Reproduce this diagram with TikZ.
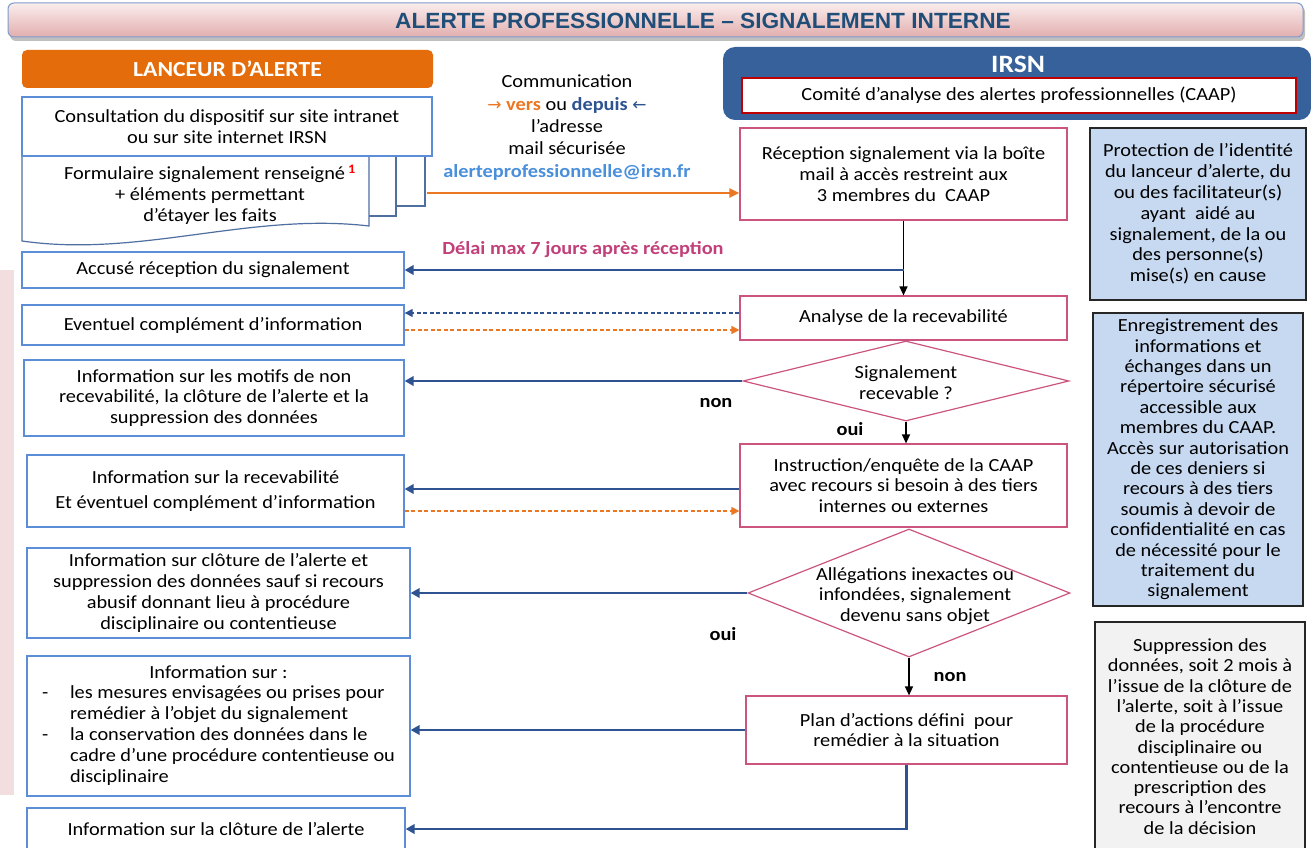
\documentclass[tikz,border=0pt]{standalone}
\usepackage{fontspec}
\setmainfont{Carlito}[FakeStretch=1.1]
\newfontfamily\titlefont{Liberation Sans}[FakeStretch=1.03]
\newfontfamily\symfont{DejaVu Sans}
\usetikzlibrary{shapes.geometric,arrows.meta,calc}
\definecolor{ttl}{HTML}{1F4E79}
\definecolor{bannerTop}{HTML}{FBEDED}
\definecolor{bannerBot}{HTML}{E2AEAE}
\definecolor{bannerLine}{HTML}{7D9CCB}
\definecolor{orng}{HTML}{E46C0A}
\definecolor{orngLine}{HTML}{EB7722}
\definecolor{irsn}{HTML}{36619A}
\definecolor{caapRed}{HTML}{C00000}
\definecolor{rose}{HTML}{CC5580}
\definecolor{boxblue}{HTML}{5B8ED6}
\definecolor{darkblue}{HTML}{2F5290}
\definecolor{lightblue}{HTML}{C6D9F1}
\definecolor{lightgray}{HTML}{F2F2F2}
\definecolor{delai}{HTML}{C2407A}
\definecolor{mail}{HTML}{4A8FDB}
\definecolor{strip}{HTML}{F2DEDE}
\definecolor{docline}{HTML}{4F6FA0}
\tikzset{
  base/.style={inner sep=0pt, align=center, font=\fontsize{18.5}{20.8}\selectfont},
  bbox/.style={base, rectangle, draw=boxblue, line width=1.3pt, fill=white},
  rbox/.style={base, rectangle, draw=rose, line width=1.2pt, fill=white},
  rdiam/.style={diamond, draw=rose, line width=1.2pt, fill=white, inner sep=0pt},
  sidebox/.style={base, rectangle, draw=black!85, line width=1.2pt},
  lbl/.style={base, font=\bfseries\fontsize{18.5}{20.8}\selectfont},
  blarrow/.style={draw=darkblue, line width=2.8pt, -{Triangle[length=9pt,width=9.5pt]}},
  bkarrow/.style={draw=black, line width=1.3pt, -{Triangle[length=9pt,width=8pt]}},
  bldash/.style={draw=darkblue, line width=1.3pt, dash pattern=on 4pt off 2.5pt, -{Triangle[length=8pt,width=8pt]}},
  ordash/.style={draw=orngLine, line width=1.3pt, dash pattern=on 4pt off 2.5pt, -{Triangle[length=8pt,width=8pt]}},
  docpage/.style={draw=docline, line width=1.2pt, fill=white}
}
\begin{document}
\begin{tikzpicture}[x=1pt,y=-1pt]
\useasboundingbox (0,0) rectangle (1311,848);
\fill[white] (0,0) rectangle (1311,848);
% left strip
\fill[strip] (0,270) rectangle (14,795);
% banner
\fill[black!25, rounded corners=6pt] (10,6) rectangle (1305,41);
\shade[top color=bannerTop, bottom color=bannerBot, draw=bannerLine, line width=1pt, rounded corners=6pt] (8,3) rectangle (1303,37);
\node[inner sep=0pt, font=\titlefont\bfseries\fontsize{22}{24}\selectfont, text=ttl] (title) at (703,21) {ALERTE PROFESSIONNELLE – SIGNALEMENT INTERNE};
% lanceur
\node[fill=orng, rounded corners=5pt, minimum width=411pt, minimum height=38pt, inner sep=0pt, text=white, font=\bfseries\fontsize{21.5}{24}\selectfont] (lanceur) at (227.5,69) {LANCEUR D’ALERTE};
% document stack
\draw[docpage] (60,150) rectangle (425,206);
\draw[docpage] (40,150) rectangle (396,216);
\draw[docpage] (22,150) -- (369,150) -- (369,226) .. controls (250,212) and (140,258) .. (22,241) -- cycle;
\node[base] (form) at (210,194.5) {Formulaire signalement renseigné\,\textsuperscript{\color{red}\bfseries 1}\\+ éléments permettant\\d’étayer les faits};
\coordinate (stackR) at (427,193);
% consultation
\node[bbox, minimum width=410pt, minimum height=59pt] (consult) at (227,126.5) {Consultation du dispositif sur site intranet\\ou sur site internet IRSN};
% communication
\node[base, font=\fontsize{18.5}{22.3}\selectfont] (comm) at (567,127.5) {Communication\\{\color{orngLine}\symfont\fontsize{17}{17}\selectfont →} {\bfseries\color{orngLine}vers} ou {\bfseries\color{darkblue}depuis} {\color{darkblue}\symfont\fontsize{17}{17}\selectfont ←}\\l’adresse\\mail sécurisée\\{\bfseries\color{mail}alerteprofessionnelle@irsn.fr}};
% IRSN
\node[fill=irsn, rounded corners=12pt, minimum width=588pt, minimum height=73pt, inner sep=0pt] (irsn) at (1017,83.5) {};
\node[inner sep=0pt, text=white, font=\bfseries\fontsize{25}{26}\selectfont] (irsnt) at (1018,64) {IRSN};
\node[base, draw=caapRed, line width=1.2pt, fill=white, minimum width=554pt, minimum height=35pt] (caap) at (1019,95.5) {Comité d’analyse des alertes professionnelles (CAAP)};
% right side boxes
\node[sidebox, fill=lightblue, minimum width=216pt, minimum height=172pt] (protect) at (1198,214) {Protection de l’identité\\du lanceur d’alerte, du\\ou des facilitateur(s)\\ayant\ \ aidé au\\signalement, de la ou\\des personne(s)\\mise(s) en cause};
\node[sidebox, fill=lightblue, minimum width=210pt, minimum height=293pt, font=\fontsize{18.5}{20.4}\selectfont] (enreg) at (1198,459.5) {Enregistrement des\\informations et\\échanges dans un\\répertoire sécurisé\\accessible aux\\membres du CAAP.\\Accès sur autorisation\\de ces deniers si\\recours à des tiers\\soumis à devoir de\\confidentialité en cas\\de nécessité pour le\\traitement du\\signalement};
\node[sidebox, fill=lightgray, minimum width=210pt, minimum height=236pt] (suppr) at (1200,740) {};
\node[base, font=\fontsize{18.5}{20.3}\selectfont] (supprt) at (1200,736.5) {Suppression des\\données, soit 2 mois à\\l’issue de la clôture de\\l’alerte, soit à l’issue\\de la procédure\\disciplinaire ou\\contentieuse ou de la\\prescription des\\recours à l’encontre\\de la décision};
% center column
\node[rbox, minimum width=327pt, minimum height=92pt] (recep) at (903.5,174) {Réception signalement via la boîte\\mail à accès restreint aux\\3 membres du\ \ CAAP};
\node[rbox, minimum width=327pt, minimum height=44pt] (analyse) at (903.5,318) {Analyse de la recevabilité};
\node[rdiam, minimum width=326pt, minimum height=80pt] (d1) at (906,381) {};
\node[base] (d1t) at (906,383) {Signalement\\recevable ?};
\node[rbox, minimum width=327pt, minimum height=83pt] (instr) at (903.5,485.5) {Instruction/enquête de la CAAP\\avec recours si besoin à des tiers\\internes ou externes};
\node[rdiam, minimum width=322pt, minimum height=128pt] (d2) at (909,593) {};
\node[base] (d2t) at (915,596) {Allégations inexactes ou\\infondées, signalement\\devenu sans objet};
\node[rbox, minimum width=321pt, minimum height=68pt] (plan) at (906.5,730) {Plan d’actions défini\ \ pour\\remédier à la situation};
% left column
\node[bbox, minimum width=382pt, minimum height=36pt] (accuse) at (213,270) {Accusé réception du signalement};
\node[bbox, minimum width=382pt, minimum height=40pt] (event) at (213,325) {Eventuel complément d’information};
\node[bbox, minimum width=380pt, minimum height=76pt] (nonrec) at (214,398) {Information sur les motifs de non\\recevabilité, la clôture de l’alerte et la\\suppression des données};
\node[bbox, minimum width=377pt, minimum height=72pt] (recev) at (215.5,491) {Information sur la recevabilité\\[5pt]Et éventuel complément d’information};
\node[bbox, minimum width=383pt, minimum height=90pt] (clot) at (218.5,593) {Information sur clôture de l’alerte et\\suppression des données sauf si recours\\abusif donnant lieu à procédure\\disciplinaire ou contentieuse};
\node[bbox, minimum width=383pt, minimum height=140pt] (mesures) at (218.5,726) {\begin{tabular}{@{}l@{}l@{}}
\multicolumn{2}{c}{Information sur :}\\
\makebox[28pt][l]{-} & les mesures envisagées ou prises pour\\
 & remédier à l’objet du signalement\\
- & la conservation des données dans le\\
 & cadre d’une procédure contentieuse ou\\
 & disciplinaire
\end{tabular}};
\node[bbox, minimum width=378pt, minimum height=48pt] (final) at (216,832) {};
\node[base] (finalt) at (216,829) {Information sur la clôture de l’alerte};
% connectors
\draw[draw=orngLine, line width=2pt, -{Triangle[length=10pt,width=9pt]}] (stackR) -- (stackR -| recep.west);
\draw[bkarrow] (recep.south) -- (analyse.north);
\draw[blarrow] (recep.south |- accuse.east) -- (accuse.east);
\node[lbl, text=delai] (delai) at (583,250) {Délai max 7 jours après réception};
\draw[bldash] ([yshift=5pt]analyse.west) -- ([yshift=5pt]analyse.west -| event.east);
\draw[ordash] ([yshift=-12pt]analyse.west -| event.east) -- ([yshift=-12pt]analyse.west);
\draw[blarrow] (d1.west) -- (d1.west -| nonrec.east);
\node[lbl] (non1) at (716,403) {non};
\draw[bkarrow] (d1.south) -- (d1.south |- instr.north);
\node[lbl] (oui1) at (850,429) {oui};
\draw[blarrow] ([yshift=-3.5pt]instr.west) -- ([yshift=-3.5pt]instr.west -| recev.east);
\draw[ordash] ([yshift=-25.5pt]instr.west -| recev.east) -- ([yshift=-25.5pt]instr.west);
\draw[blarrow] (d2.west) -- (d2.west -| clot.east);
\node[lbl] (oui2) at (723,634) {oui};
\draw[bkarrow] (d2.south) -- (d2.south |- plan.north);
\node[lbl] (non2) at (950,677) {non};
\draw[blarrow] (plan.west) -- (plan.west -| mesures.east);
\draw[blarrow] (plan.south) |- ([yshift=3pt]final.east);
\end{tikzpicture}
\end{document}
